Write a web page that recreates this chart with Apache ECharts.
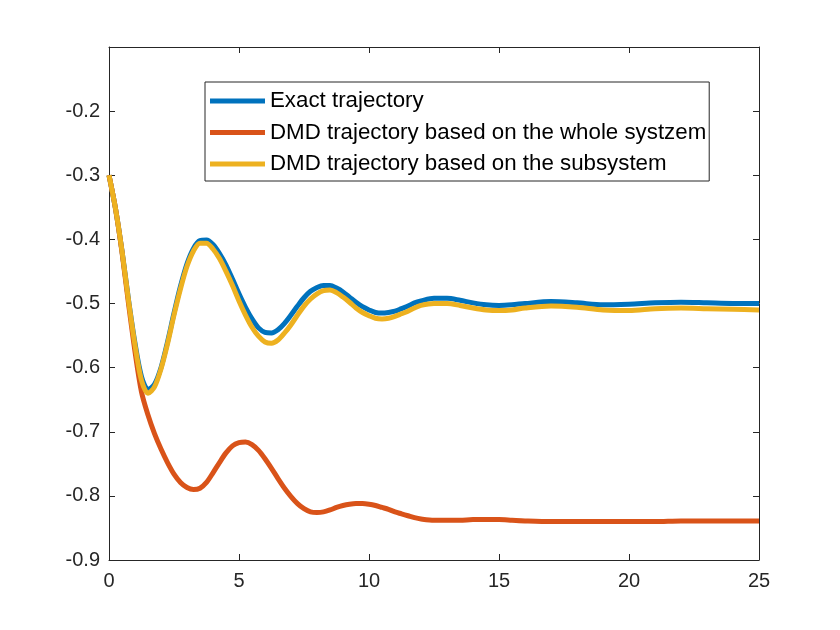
<!DOCTYPE html>
<html>
<head>
<meta charset="utf-8">
<script src="https://cdn.jsdelivr.net/npm/echarts@6/dist/echarts.min.js"></script>
<style>
  html, body { margin: 0; padding: 0; background: #fff; }
  #chart { width: 840px; height: 630px; }
</style>
</head>
<body>
<div id="chart"></div>
<script>
// sample times (x) and the three trajectories
const times = [0, 0.25, 0.5, 0.75, 1, 1.25, 1.5, 1.75, 2, 2.25, 2.5, 2.75, 3, 3.25, 3.5, 3.75, 4, 4.25, 4.5, 4.75,
  5, 5.25, 5.5, 5.75, 6, 6.25, 6.5, 6.75, 7, 7.25, 7.5, 7.75, 8, 8.25, 8.5, 8.75, 9, 9.25, 9.5, 9.75,
  10, 10.25, 10.5, 10.75, 11, 11.25, 11.5, 11.75, 12, 12.5, 13, 13.5, 14, 14.5, 15, 15.5, 16,
  17, 18, 19, 20, 21, 22, 23, 24, 25];
const exact = [-0.300, -0.352, -0.418, -0.494, -0.562, -0.614, -0.634, -0.626, -0.600, -0.560, -0.515, -0.473,
  -0.438, -0.414, -0.402, -0.401, -0.408, -0.422, -0.440, -0.462,
  -0.485, -0.506, -0.524, -0.538, -0.545, -0.546, -0.541, -0.531, -0.518, -0.504, -0.491, -0.481,
  -0.475, -0.472, -0.472, -0.476, -0.482, -0.490, -0.498, -0.505,
  -0.510, -0.514, -0.515, -0.514, -0.512, -0.508, -0.504, -0.499, -0.496, -0.492, -0.492, -0.495,
  -0.499, -0.502, -0.503, -0.502, -0.500,
  -0.497, -0.499, -0.502, -0.501, -0.499, -0.498, -0.499, -0.500, -0.500];
const dmdWhole = [-0.300, -0.352, -0.420, -0.500, -0.575, -0.638, -0.674, -0.703, -0.727, -0.748, -0.766, -0.779,
  -0.787, -0.790, -0.788, -0.779, -0.764, -0.748, -0.733, -0.722,
  -0.717, -0.716, -0.720, -0.729, -0.742, -0.757, -0.773, -0.788, -0.801, -0.812, -0.820, -0.825,
  -0.826, -0.825, -0.822, -0.818, -0.815, -0.813, -0.812, -0.812,
  -0.813, -0.815, -0.818, -0.821, -0.825, -0.828, -0.831, -0.834, -0.836, -0.838, -0.838, -0.838,
  -0.837, -0.837, -0.837, -0.838, -0.839,
  -0.840, -0.840, -0.840, -0.840, -0.840, -0.839, -0.839, -0.839, -0.839];
const dmdSub = [-0.300, -0.352, -0.418, -0.495, -0.565, -0.620, -0.640, -0.630, -0.602, -0.563, -0.518, -0.477,
  -0.442, -0.418, -0.406, -0.406, -0.415, -0.430, -0.450, -0.472,
  -0.496, -0.518, -0.537, -0.551, -0.560, -0.562, -0.557, -0.546, -0.533, -0.518, -0.504, -0.493,
  -0.485, -0.480, -0.479, -0.483, -0.490, -0.498, -0.507, -0.514,
  -0.519, -0.523, -0.524, -0.523, -0.520, -0.516, -0.512, -0.507, -0.503, -0.500, -0.500, -0.503,
  -0.507, -0.510, -0.511, -0.510, -0.507,
  -0.504, -0.506, -0.510, -0.511, -0.508, -0.507, -0.508, -0.509, -0.510];
const names = ['Exact trajectory', 'DMD trajectory based on the whole systzem', 'DMD trajectory based on the subsystem'];
const colors = ['#0072BD', '#D95319', '#EDB120'];

const FONT = '"Liberation Sans", Arial, Helvetica, sans-serif';
const INK = '#262626';
const pairs = (ys) => times.map((t, i) => [t, ys[i]]);

const boxAxis = {
  axisLine: { show: true, onZero: false, lineStyle: { color: INK, width: 1 } },
  axisTick: { show: true, inside: true, length: 6, lineStyle: { color: INK } },
  splitLine: { show: false },
};

const chart = echarts.init(document.getElementById('chart'), null, { renderer: 'canvas' });
chart.setOption({
  animation: false,
  backgroundColor: '#fff',
  color: colors,
  grid: { left: 109, right: 81, top: 47, bottom: 70, containLabel: false },
  legend: {
    orient: 'vertical', left: 205, top: 82,
    data: names.map((n) => ({ name: n, icon: 'rect' })),
    backgroundColor: '#fff', borderColor: INK, borderWidth: 1, borderRadius: 0,
    padding: [8, 3, 6, 5],
    itemWidth: 55, itemHeight: 5, itemGap: 9.5,
    textStyle: { color: '#000', fontFamily: FONT, fontSize: 22.3, lineHeight: 22 },
  },
  xAxis: [
    Object.assign({ type: 'value', position: 'bottom', min: 0, max: 25, interval: 5,
      axisLabel: { color: INK, fontFamily: FONT, fontSize: 20, margin: 11 } }, boxAxis),
    Object.assign({ type: 'value', position: 'top', min: 0, max: 25, interval: 5,
      axisLabel: { show: false } }, boxAxis),
  ],
  yAxis: [
    Object.assign({ type: 'value', position: 'left', min: -0.9, max: -0.1, interval: 0.1,
      axisLabel: { color: INK, fontFamily: FONT, fontSize: 20, margin: 9,
        formatter: (v) => (v > -0.15 ? '' : v.toFixed(1)) } }, boxAxis),
    Object.assign({ type: 'value', position: 'right', min: -0.9, max: -0.1, interval: 0.1,
      axisLabel: { show: false } }, boxAxis),
  ],
  series: [exact, dmdWhole, dmdSub].map((ys, i) => ({
    name: names[i], type: 'line', data: pairs(ys), smooth: 0.3,
    showSymbol: false, symbol: 'none',
    lineStyle: { width: 5, color: colors[i] },
    z: 2 + i,
  })),
});
</script>
</body>
</html>
